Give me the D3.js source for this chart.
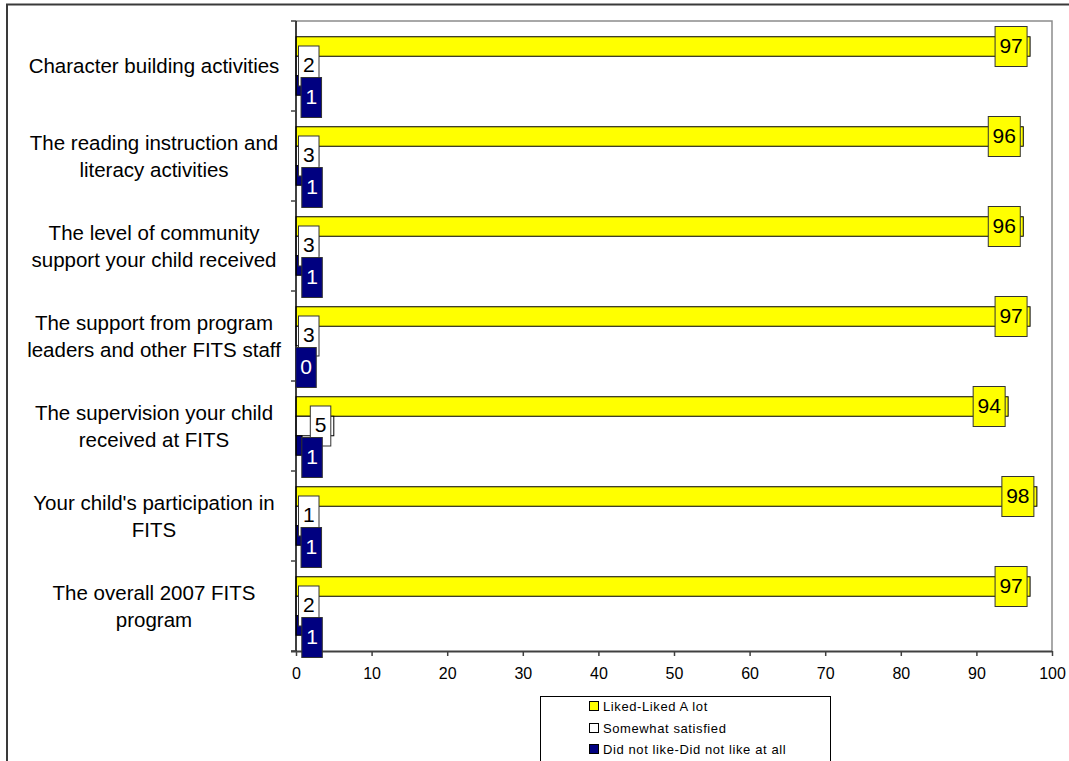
<!DOCTYPE html>
<html>
<head>
<meta charset="utf-8">
<script src="https://cdn.jsdelivr.net/npm/d3@7"></script>
<style>
  html, body { margin: 0; padding: 0; background: #fff; }
  svg { display: block; font-family: "Liberation Sans", Arial, sans-serif; }
</style>
</head>
<body>
<svg id="chart" width="1069" height="761"></svg>
<script>
// ---- data ----
const categories = [
  ["Character building activities"],
  ["The reading instruction and", "literacy activities"],
  ["The level of community", "support your child received"],
  ["The support from program", "leaders and other FITS staff"],
  ["The supervision your child", "received at FITS"],
  ["Your child's participation in", "FITS"],
  ["The overall 2007 FITS", "program"]
];
const seriesNames = ["Liked-Liked A lot", "Somewhat satisfied", "Did not like-Did not like at all"];
const likedValues = [97.1, 96.2, 96.2, 97.1, 94.2, 98.0, 97.1];
const somewhatValues = [2.2, 3.0, 3.0, 2.9, 5.0, 1.3, 2.2];
const dislikedValues = [0.7, 0.8, 0.8, 0.0, 0.8, 0.7, 0.8];
const xTicks = [0, 10, 20, 30, 40, 50, 60, 70, 80, 90, 100];
const seriesColors = ["#ffff00", "#ffffff", "#000080"];
const labelTextColors = ["#000", "#000", "#fff"];

const seriesValues = [likedValues, somewhatValues, dislikedValues];

const svg = d3.select("#chart");

// outer chart border
svg.append("rect").attr("x", 7).attr("y", 4.5).attr("width", 1080).attr("height", 800)
  .attr("fill", "none").attr("stroke", "#3a3a3a").attr("stroke-width", 2);

const plot = { left: 296, right: 1052, top: 21, bottom: 651 };

const x = d3.scaleLinear().domain([0, 100]).range([plot.left, plot.right]);
const catIdx = categories.map((d, i) => i);
const y = d3.scaleBand().domain(catIdx).range([plot.top, plot.bottom])
  .paddingInner(0.35).paddingOuter(0.175);
const ySub = d3.scaleBand().domain([0, 1, 2]).range([0, y.bandwidth()]);

// plot area border (top, right)
svg.append("path")
  .attr("d", `M${plot.left},${plot.top}H${plot.right}V${plot.bottom}`)
  .attr("fill", "none").attr("stroke", "#8c8c8c").attr("stroke-width", 1.5);

// bars
const barsG = svg.append("g");
seriesValues.forEach((vals, s) => {
  barsG.selectAll(null).data(vals).enter().append("rect")
    .attr("x", x(0))
    .attr("y", (d, i) => y(i) + ySub(s))
    .attr("width", d => x(d) - x(0))
    .attr("height", ySub.bandwidth())
    .attr("fill", seriesColors[s])
    .attr("stroke", "#000").attr("stroke-width", 1);
});

// x axis
const xAxis = d3.axisBottom(x).tickValues(xTicks).tickSize(5).tickPadding(12).tickSizeOuter(0);
const gx = svg.append("g").attr("transform", `translate(0,${plot.bottom})`).call(xAxis);
gx.select(".domain").attr("stroke", "#404040").attr("stroke-width", 2)
  .attr("d", `M${plot.left - 5},0.5H${plot.right}`);
gx.selectAll(".tick line").attr("stroke", "#404040").attr("stroke-width", 1.5);
gx.selectAll(".tick text").attr("font-size", 16).attr("fill", "#000")
  .attr("font-family", "'Liberation Sans', Arial, sans-serif");

// y axis (category boundaries)
const boundaries = d3.range(categories.length + 1).map(i => plot.top + i * y.step());
svg.append("line").attr("x1", plot.left).attr("x2", plot.left)
  .attr("y1", plot.top).attr("y2", plot.bottom)
  .attr("stroke", "#000").attr("stroke-width", 1.5);
svg.selectAll(null).data(boundaries).enter().append("line")
  .attr("x1", plot.left - 5).attr("x2", plot.left)
  .attr("y1", d => d).attr("y2", d => d)
  .attr("stroke", "#404040").attr("stroke-width", 1.5);

// category labels
const catG = svg.append("g");
categories.forEach((lines, i) => {
  const cy = y(i) + y.bandwidth() / 2;
  const lh = 27;
  const t = catG.append("text").attr("text-anchor", "middle").attr("font-size", 20.5).attr("fill", "#000");
  lines.forEach((ln, j) => {
    t.append("tspan").attr("x", 154)
      .attr("y", cy + (j - (lines.length - 1) / 2) * lh)
      .attr("dy", "0.35em").text(ln);
  });
});

// data labels
const fmt = d3.format(".0f");
const labG = svg.append("g");
seriesValues.forEach((vals, s) => {
  vals.forEach((v, i) => {
    const txt = fmt(v);
    const w = 9 + 11.5 * txt.length;
    const h = 40;
    const barCy = y(i) + ySub(s) + ySub.bandwidth() / 2;
    let cx, cy;
    if (s < 2) {
      const right = Math.max(x(v) - 3, x(0) + 23);
      cx = right - w / 2;
      cy = barCy;
    } else {
      cx = x(v) + 10;
      cy = barCy + 12;
    }
    labG.append("rect").attr("x", cx - w / 2).attr("y", cy - h / 2)
      .attr("width", w).attr("height", h)
      .attr("fill", seriesColors[s]).attr("stroke", "#333").attr("stroke-width", 1);
    labG.append("text").attr("x", cx).attr("y", cy - 1)
      .attr("text-anchor", "middle").attr("dy", "0.35em")
      .attr("font-size", 21).attr("fill", labelTextColors[s]).text(txt);
  });
});

// legend
const legend = svg.append("g");
legend.append("rect").attr("x", 540.5).attr("y", 696.5).attr("width", 290).attr("height", 80)
  .attr("fill", "#fff").attr("stroke", "#000").attr("stroke-width", 1);
const legRowsY = [706, 728, 749];
seriesNames.forEach((name, s) => {
  legend.append("rect").attr("x", 589.5).attr("y", legRowsY[s] - 4.5).attr("width", 9).attr("height", 9)
    .attr("fill", seriesColors[s]).attr("stroke", "#000").attr("stroke-width", 1);
  legend.append("text").attr("x", 603).attr("y", legRowsY[s]).attr("dy", "0.35em")
    .attr("font-size", 13).attr("letter-spacing", 0.6).attr("fill", "#000").text(name);
});
</script>
</body>
</html>
